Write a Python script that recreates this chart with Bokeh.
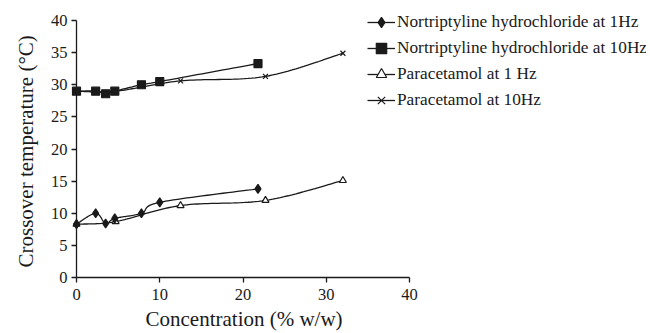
import numpy as np
from bokeh.plotting import figure
from bokeh.models import Legend, LegendItem, Range1d, FixedTicker, Title
from bokeh.embed import file_html
from bokeh.resources import INLINE

# Data
nort_1hz_x = [0, 2.3, 3.5, 4.6, 7.8, 10, 21.8]
nort_1hz_y = [8.3, 10.0, 8.4, 9.2, 10.0, 11.7, 13.8]
nort_10hz_x = [0, 2.3, 3.5, 4.6, 7.8, 10, 21.8]
nort_10hz_y = [29.0, 29.0, 28.6, 29.0, 30.0, 30.5, 33.3]
para_1hz_x = [0, 4.7, 12.5, 22.7, 32]
para_1hz_y = [8.3, 8.7, 11.2, 12.0, 15.1]
para_10hz_x = [0, 4.7, 12.5, 22.7, 32]
para_10hz_y = [29.0, 29.0, 30.6, 31.3, 34.9]
labels = ["Nortriptyline hydrochloride at 1Hz",
          "Nortriptyline hydrochloride at 10Hz",
          "Paracetamol at 1 Hz",
          "Paracetamol at 10Hz"]
x_ticks = [0, 10, 20, 30, 40]
y_ticks = [0, 5, 10, 15, 20, 25, 30, 35, 40]
x_title = "Concentration (% w/w)"
y_title = "Crossover temperature (°C)"


def smooth(xs, ys, n=24):
    """Catmull-Rom style smoothing of the line through the data points (rendering only)."""
    P = np.column_stack([xs, ys]).astype(float)
    out = []
    m = len(P)
    for i in range(m - 1):
        p0 = P[i - 1] if i > 0 else P[i]
        p1 = P[i]
        p2 = P[i + 1]
        p3 = P[i + 2] if i + 2 < m else P[i + 1]
        c1 = p1 + (p2 - p0) / 6.0
        c2 = p2 - (p3 - p1) / 6.0
        t = np.linspace(0, 1, n, endpoint=(i == m - 2))[:, None]
        seg = ((1 - t) ** 3) * p1 + 3 * ((1 - t) ** 2) * t * c1 + 3 * (1 - t) * t ** 2 * c2 + t ** 3 * p2
        out.append(seg)
    out = np.vstack(out)
    return out[:, 0], out[:, 1]


FONT = "Liberation Serif"
INK = "#1a1a1a"

# geometry: 40 x-units span 333 px, 40 y-units span 257 px
PX_X = 333 / 40.0
PX_Y = 257 / 40.0
FRAME_W = 570
FRAME_H = 273
X_END = FRAME_W / PX_X
Y_END = FRAME_H / PX_Y

p = figure(frame_width=FRAME_W, frame_height=FRAME_H, output_backend="svg", toolbar_location=None,
           x_range=Range1d(0, X_END), y_range=Range1d(0, Y_END),
           min_border_left=76, min_border_right=0, min_border_top=4, min_border_bottom=52)
p.outline_line_color = None
p.xgrid.visible = False
p.ygrid.visible = False
p.background_fill_color = None
p.border_fill_color = "white"

series = [
    (nort_1hz_x, nort_1hz_y, "diamond", INK, INK, 9),
    (nort_10hz_x, nort_10hz_y, "square", INK, INK, 8),
    (para_1hz_x, para_1hz_y, "triangle", INK, "white", 7),
    (para_10hz_x, para_10hz_y, "x", INK, INK, 7),
]

# draw paracetamol first so the nortriptyline markers sit on top, keep legend order
rends = {}
for idx in (2, 3, 0, 1):
    xs, ys, marker, lc, fc, size = series[idx]
    sx, sy = smooth(xs, ys)
    lr = p.line(sx, sy, line_color=INK, line_width=1.3, level="overlay")
    sr = p.scatter(xs, ys, marker=marker, size=size, line_color=lc, fill_color=fc,
                   line_width=1.2, level="overlay")
    rends[idx] = [lr, sr]

items = [LegendItem(label=labels[i], renderers=rends[i]) for i in range(4)]

legend = Legend(items=items, location=(291, 164), padding=0, spacing=0, margin=0,
                label_height=26, glyph_height=26, glyph_width=28, label_standoff=2,
                label_text_font=FONT, label_text_font_size="17.3px", label_text_color=INK,
                border_line_color=None, background_fill_alpha=0)
p.add_layout(legend, "center")

for ax in (p.xaxis[0], p.yaxis[0]):
    ax.axis_line_color = INK
    ax.axis_line_width = 1.3
    ax.major_tick_line_color = INK
    ax.major_tick_line_width = 1.3
    ax.major_tick_out = 5
    ax.major_tick_in = 0
    ax.minor_tick_line_color = None
    ax.major_label_text_font = FONT
    ax.major_label_text_font_size = "16.5px"
    ax.major_label_text_color = INK
    ax.bounds = (0, 40)

p.xaxis.ticker = FixedTicker(ticks=x_ticks)
p.yaxis.ticker = FixedTicker(ticks=y_ticks)
p.xaxis.major_label_standoff = 6
p.yaxis.major_label_standoff = 4

tx = Title(text=x_title, align="left", offset=69, text_font=FONT, text_font_size="21px",
           text_font_style="normal", text_color=INK, standoff=5)
p.add_layout(tx, "below")
ty = Title(text=y_title, align="left", offset=10, text_font=FONT, text_font_size="21px",
           text_font_style="normal", text_color=INK, standoff=20)
p.add_layout(ty, "left")

open("out.html", "w").write(file_html(p, INLINE))
